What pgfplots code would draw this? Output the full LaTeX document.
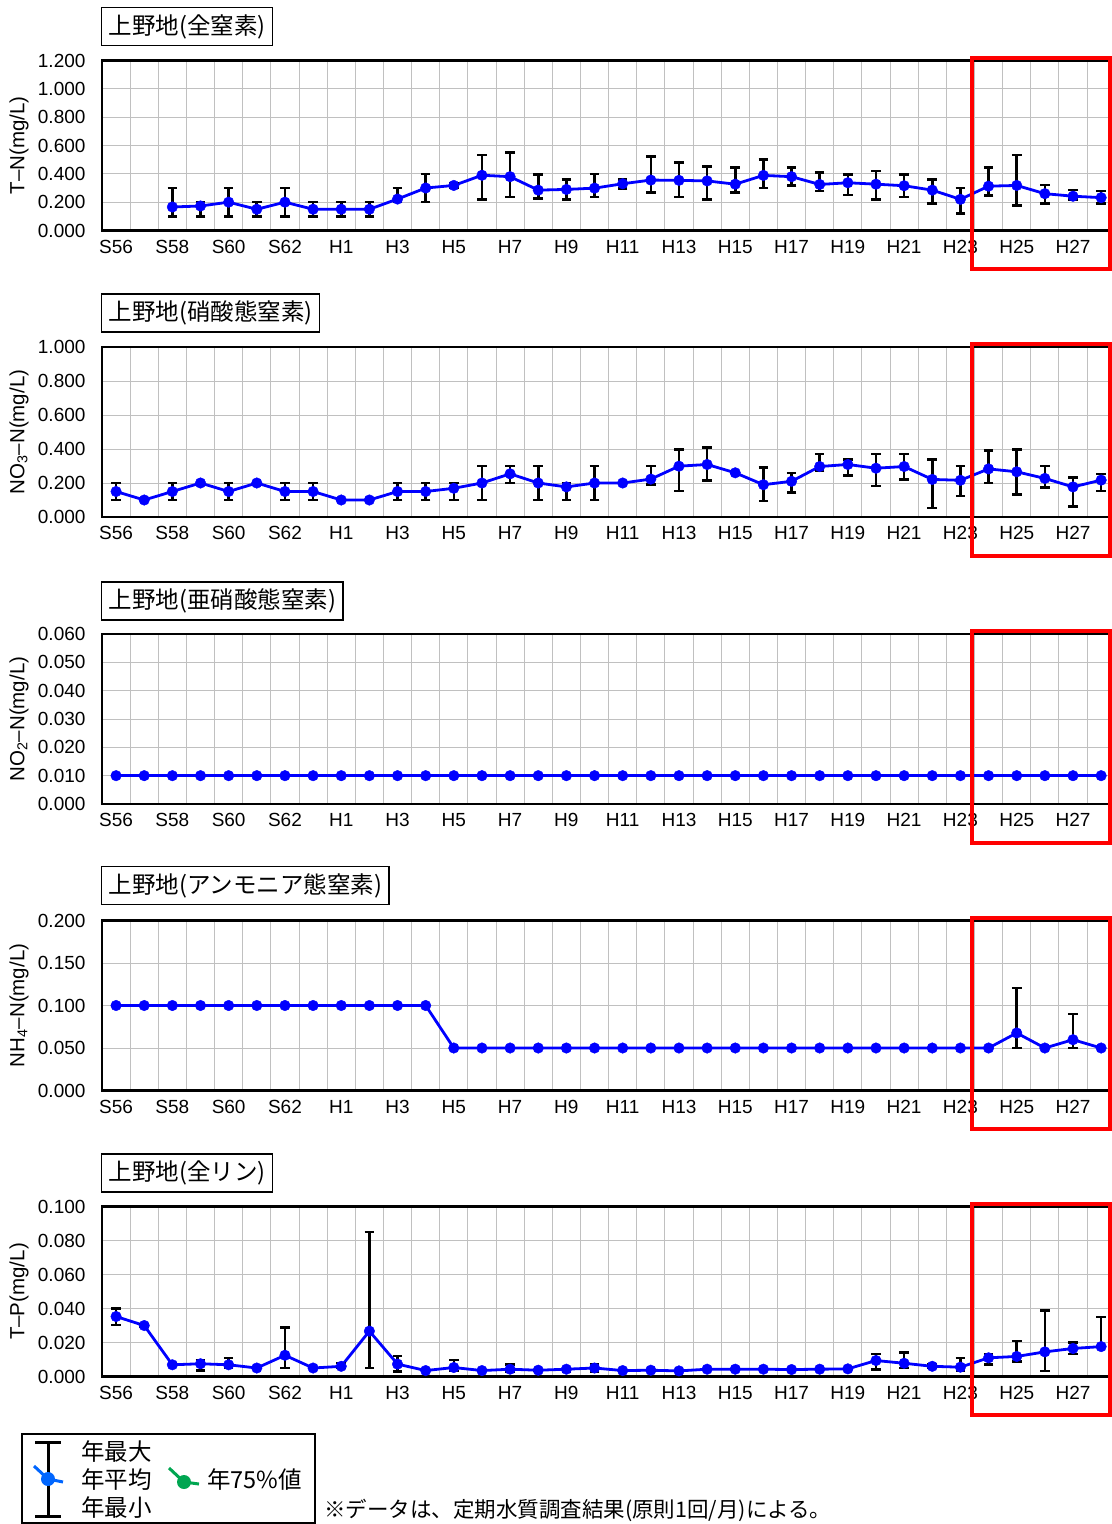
\documentclass[border=0pt]{standalone}
\usepackage{pgfplots}
\pgfplotsset{compat=1.18}
\usepackage{pgfplotstable}
\usepackage{fontspec}
\setmainfont{Liberation Sans}
\newfontfamily\jp{Noto Sans CJK JP}
\definecolor{xlblue}{RGB}{0,0,255}
\definecolor{xlred}{RGB}{255,0,0}
\definecolor{xlgrid}{RGB}{192,192,192}
\definecolor{lgblue}{RGB}{0,102,255}
\definecolor{lggreen}{RGB}{0,166,81}

\pgfplotstableread{
x mean max min
2 0.166 0.300 0.098
3 0.173 0.200 0.100
4 0.200 0.300 0.100
5 0.150 0.200 0.100
6 0.200 0.300 0.100
7 0.150 0.200 0.100
8 0.150 0.200 0.100
9 0.150 0.200 0.100
10 0.222 0.300 0.200
11 0.300 0.400 0.200
12 0.318 0.335 0.305
13 0.390 0.534 0.218
14 0.380 0.550 0.237
15 0.285 0.396 0.225
16 0.290 0.360 0.218
17 0.299 0.400 0.237
18 0.330 0.360 0.297
19 0.356 0.524 0.270
20 0.354 0.480 0.237
21 0.350 0.453 0.218
22 0.327 0.444 0.268
23 0.389 0.503 0.299
24 0.380 0.444 0.318
25 0.325 0.410 0.278
26 0.337 0.394 0.250
27 0.327 0.420 0.218
28 0.316 0.394 0.237
29 0.285 0.360 0.190
30 0.220 0.300 0.119
31 0.313 0.444 0.249
32 0.318 0.534 0.178
33 0.260 0.320 0.190
34 0.242 0.287 0.218
35 0.232 0.280 0.190
}\tntab

\pgfplotstableread{
x mean max min
0 0.150 0.200 0.100
1 0.100 0.100 0.100
2 0.150 0.200 0.100
3 0.200 0.200 0.200
4 0.150 0.200 0.100
5 0.200 0.200 0.200
6 0.150 0.200 0.100
7 0.150 0.200 0.100
8 0.100 0.100 0.100
9 0.100 0.100 0.100
10 0.150 0.200 0.100
11 0.150 0.200 0.100
12 0.169 0.200 0.100
13 0.200 0.300 0.100
14 0.254 0.300 0.200
15 0.200 0.300 0.100
16 0.177 0.200 0.100
17 0.200 0.300 0.100
18 0.200 0.200 0.200
19 0.223 0.300 0.190
20 0.299 0.398 0.153
21 0.309 0.410 0.214
22 0.260 0.260 0.260
23 0.190 0.290 0.093
24 0.210 0.258 0.144
25 0.297 0.371 0.272
26 0.309 0.340 0.245
27 0.287 0.371 0.183
28 0.297 0.371 0.221
29 0.221 0.340 0.052
30 0.216 0.300 0.124
31 0.283 0.390 0.200
32 0.266 0.398 0.134
33 0.227 0.300 0.173
34 0.177 0.231 0.062
35 0.217 0.254 0.153
}\nothreetab

\pgfplotstableread{
x mean max min
0 0.010 0.010 0.010
1 0.010 0.010 0.010
2 0.010 0.010 0.010
3 0.010 0.010 0.010
4 0.010 0.010 0.010
5 0.010 0.010 0.010
6 0.010 0.010 0.010
7 0.010 0.010 0.010
8 0.010 0.010 0.010
9 0.010 0.010 0.010
10 0.010 0.010 0.010
11 0.010 0.010 0.010
12 0.010 0.010 0.010
13 0.010 0.010 0.010
14 0.010 0.010 0.010
15 0.010 0.010 0.010
16 0.010 0.010 0.010
17 0.010 0.010 0.010
18 0.010 0.010 0.010
19 0.010 0.010 0.010
20 0.010 0.010 0.010
21 0.010 0.010 0.010
22 0.010 0.010 0.010
23 0.010 0.010 0.010
24 0.010 0.010 0.010
25 0.010 0.010 0.010
26 0.010 0.010 0.010
27 0.010 0.010 0.010
28 0.010 0.010 0.010
29 0.010 0.010 0.010
30 0.010 0.010 0.010
31 0.010 0.010 0.010
32 0.010 0.010 0.010
33 0.010 0.010 0.010
34 0.010 0.010 0.010
35 0.010 0.010 0.010
}\notwotab

\pgfplotstableread{
x mean max min
0 0.100 0.100 0.100
1 0.100 0.100 0.100
2 0.100 0.100 0.100
3 0.100 0.100 0.100
4 0.100 0.100 0.100
5 0.100 0.100 0.100
6 0.100 0.100 0.100
7 0.100 0.100 0.100
8 0.100 0.100 0.100
9 0.100 0.100 0.100
10 0.100 0.100 0.100
11 0.100 0.100 0.100
12 0.050 0.050 0.050
13 0.050 0.050 0.050
14 0.050 0.050 0.050
15 0.050 0.050 0.050
16 0.050 0.050 0.050
17 0.050 0.050 0.050
18 0.050 0.050 0.050
19 0.050 0.050 0.050
20 0.050 0.050 0.050
21 0.050 0.050 0.050
22 0.050 0.050 0.050
23 0.050 0.050 0.050
24 0.050 0.050 0.050
25 0.050 0.050 0.050
26 0.050 0.050 0.050
27 0.050 0.050 0.050
28 0.050 0.050 0.050
29 0.050 0.050 0.050
30 0.050 0.050 0.050
31 0.050 0.050 0.050
32 0.0677 0.1205 0.050
33 0.050 0.050 0.050
34 0.0598 0.090 0.050
35 0.050 0.050 0.050
}\nhtab

\pgfplotstableread{
x mean max min
0 0.0353 0.0400 0.0304
1 0.0300 0.0310 0.0295
2 0.0069 0.0075 0.0065
3 0.0075 0.0098 0.0035
4 0.0069 0.0110 0.0050
5 0.0050 0.0050 0.0050
6 0.0125 0.0290 0.0050
7 0.0050 0.0050 0.0050
8 0.0060 0.0080 0.0050
9 0.0267 0.0850 0.0050
10 0.0073 0.0120 0.0030
11 0.0035 0.0035 0.0035
12 0.0053 0.0098 0.0033
13 0.0035 0.0035 0.0035
14 0.0043 0.0069 0.0030
15 0.0037 0.0037 0.0037
16 0.0043 0.0050 0.0030
17 0.0050 0.0070 0.0030
18 0.0035 0.0035 0.0035
19 0.0037 0.0037 0.0037
20 0.0033 0.0033 0.0033
21 0.0043 0.0043 0.0043
22 0.0043 0.0043 0.0043
23 0.0043 0.0043 0.0043
24 0.0041 0.0041 0.0041
25 0.0043 0.0043 0.0043
26 0.0045 0.0045 0.0045
27 0.0094 0.0133 0.0040
28 0.0078 0.0140 0.0050
29 0.0060 0.0070 0.0050
30 0.0055 0.0110 0.0035
31 0.0110 0.0133 0.0069
32 0.0118 0.0210 0.0088
33 0.0145 0.0390 0.0033
34 0.0165 0.0200 0.0133
35 0.0176 0.0350 0.0176
}\tptab

\pgfplotsset{
  /pgf/number format/assume math mode=true,
  panel/.style={
    scale only axis, width=1009bp, height=170bp,
    anchor=north west, clip=false,
    xmin=-0.5, xmax=35.35,
    xtick={0,2,...,34},
    xticklabels={S56,S58,S60,S62,H1,H3,H5,H7,H9,H11,H13,H15,H17,H19,H21,H23,H25,H27},
    minor xtick={-0.5,0.5,...,35.5},
    xminorgrids, ymajorgrids,
    major tick length=0, minor tick length=0,
    grid style={xlgrid, line width=1bp},
    minor grid style={xlgrid, line width=1bp},
    axis line style={line width=2.2bp, black},
    tick label style={font=\fontsize{19bp}{20bp}\selectfont},
    scaled y ticks=false,
    yticklabel style={/pgf/number format/fixed, /pgf/number format/fixed zerofill, /pgf/number format/precision=3, xshift=-13bp},
    xticklabel style={yshift=-6bp},
  },
  meanplot/.style={
    xlblue, line width=2.8bp,
    mark=*, mark size=5.3bp, mark options={fill=xlblue, draw=xlblue, line width=0.4bp},
    error bars/.cd, y dir=both, y explicit,
    error bar style={line width=2.6bp, black},
    error mark options={rotate=90, black, line width=2.6bp, mark size=4.8bp},
  },
}
\newcommand{\tabplot}[1]{\addplot[meanplot] table[x=x, y=mean, y error plus expr=\thisrow{max}-\thisrow{mean}, y error minus expr=\thisrow{mean}-\thisrow{min}] {#1};}
\newcommand{\titlebox}[2]{\node[draw, line width=1.3bp, fill=white, anchor=west, inner xsep=7bp, minimum height=38bp, font=\jp\fontsize{23.5bp}{25bp}\selectfont] at (101bp,#1) {#2};}

\begin{document}
\begin{tikzpicture}
\useasboundingbox (0,0) rectangle (1112bp,-1524bp);

% Panel 1
\titlebox{-26.5bp}{上野地(全窒素)}
\node[rotate=90, font=\fontsize{20.5bp}{22bp}\selectfont] at (19bp,-145.5bp) {T–N(mg/L)};
\begin{axis}[panel, at={(102bp,-60.5bp)}, ymin=0, ymax=1.2, ytick={0,0.2,0.4,0.6,0.8,1.0,1.2}]
\tabplot{\tntab}
\draw[xlred, line width=4bp] (axis cs:30.41,1.221) rectangle (axis cs:35.31,-0.2718);
\end{axis}

% Panel 2
\titlebox{-313bp}{上野地(硝酸態窒素)}
\node[rotate=90, font=\fontsize{20.5bp}{22bp}\selectfont] at (19bp,-432bp) {NO\textsubscript{3}–N(mg/L)};
\begin{axis}[panel, at={(102bp,-347bp)}, ymin=0, ymax=1.0, ytick={0,0.2,0.4,0.6,0.8,1.0}]
\tabplot{\nothreetab}
\draw[xlred, line width=4bp] (axis cs:30.41,1.0176) rectangle (axis cs:35.31,-0.2265);
\end{axis}

% Panel 3
\titlebox{-601bp}{上野地(亜硝酸態窒素)}
\node[rotate=90, font=\fontsize{20.5bp}{22bp}\selectfont] at (19bp,-719bp) {NO\textsubscript{2}–N(mg/L)};
\begin{axis}[panel, at={(102bp,-634bp)}, ymin=0, ymax=0.06, ytick={0,0.01,0.02,0.03,0.04,0.05,0.06}]
\tabplot{\notwotab}
\draw[xlred, line width=4bp] (axis cs:30.41,0.06106) rectangle (axis cs:35.31,-0.01359);
\end{axis}

% Panel 4
\titlebox{-885.5bp}{上野地(アンモニア態窒素)}
\node[rotate=90, font=\fontsize{20.5bp}{22bp}\selectfont] at (19bp,-1005.5bp) {NH\textsubscript{4}–N(mg/L)};
\begin{axis}[panel, at={(102bp,-920.5bp)}, ymin=0, ymax=0.2, ytick={0,0.05,0.1,0.15,0.2}]
\tabplot{\nhtab}
\draw[xlred, line width=4bp] (axis cs:30.41,0.2035) rectangle (axis cs:35.31,-0.0453);
\end{axis}

% Panel 5
\titlebox{-1173bp}{上野地(全リン)}
\node[rotate=90, font=\fontsize{20.5bp}{22bp}\selectfont] at (19bp,-1291.5bp) {T–P(mg/L)};
\begin{axis}[panel, at={(102bp,-1206.5bp)}, ymin=0, ymax=0.1, ytick={0,0.02,0.04,0.06,0.08,0.1}]
\tabplot{\tptab}
\draw[xlred, line width=4bp] (axis cs:30.41,0.10176) rectangle (axis cs:35.31,-0.02265);
\end{axis}

% Legend
\draw[line width=1.3bp] (22bp,-1434bp) rectangle (315bp,-1523bp);
\draw[line width=3bp] (48bp,-1442bp) -- (48bp,-1516bp);
\draw[line width=3bp] (35bp,-1442bp) -- (61bp,-1442bp);
\draw[line width=3bp] (35bp,-1516bp) -- (61bp,-1516bp);
\draw[lgblue, line width=3bp] (34bp,-1466bp) -- (48bp,-1479bp) -- (63bp,-1482bp);
\fill[lgblue] (48bp,-1479bp) circle (7bp);
\draw[lggreen, line width=3bp] (169bp,-1468bp) -- (184bp,-1482bp) -- (199bp,-1484bp);
\fill[lggreen] (184bp,-1482bp) circle (7bp);
\node[anchor=west, inner sep=0pt, font=\jp\fontsize{23.5bp}{25bp}\selectfont] at (81bp,-1452bp) {年最大};
\node[anchor=west, inner sep=0pt, font=\jp\fontsize{23.5bp}{25bp}\selectfont] at (81bp,-1480bp) {年平均};
\node[anchor=west, inner sep=0pt, font=\jp\fontsize{23.5bp}{25bp}\selectfont] at (81bp,-1508bp) {年最小};
\node[anchor=west, inner sep=0pt, font=\jp\fontsize{23.5bp}{25bp}\selectfont] at (207bp,-1480bp) {年75\%値};
\node[anchor=west, inner sep=0pt, font=\jp\fontsize{21.5bp}{23bp}\selectfont] at (324bp,-1510bp) {※データは、定期水質調査結果(原則1回/月)による。};
\end{tikzpicture}
\end{document}
